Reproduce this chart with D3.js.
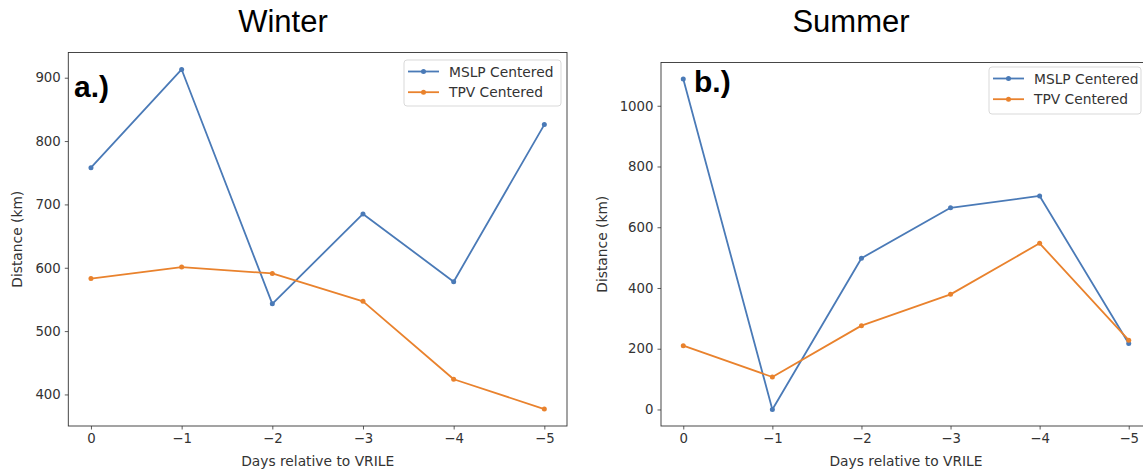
<!DOCTYPE html>
<html><head><meta charset="utf-8">
<script src="https://cdn.jsdelivr.net/npm/d3@7"></script>
<style>
body{margin:0;background:#fff;}
svg{display:block;}
</style></head>
<body>
<svg id="chart" width="1143" height="471"></svg>
<script>
const days = [0, -1, -2, -3, -4, -5];
const seriesNames = ["MSLP Centered", "TPV Centered"];
const winterMSLP = [758, 913, 543, 685, 578, 826];
const winterTPV = [583, 601, 591, 547, 424, 377];
const summerMSLP = [1088, 0, 498, 664, 703, 217];
const summerTPV = [210, 107, 276, 379, 547, 228];
const winterTicks = [400, 500, 600, 700, 800, 900];
const summerTicks = [0, 200, 400, 600, 800, 1000];
const xTicks = [0, -1, -2, -3, -4, -5];
const colors = ["#4a7ab7", "#e9822d"];

const svg = d3.select("#chart");
const tickFont = "DejaVu Sans";
const tickSize = 13.3;
const labelSize = 13.8;

function panel(cfg) {
  const {left, right, top, bottom, series, yTicks, title, titleX, tag, tagX, tagY, yLabelX, legend} = cfg;
  const all = series.flat();
  const mn = d3.min(all), mx = d3.max(all), m = (mx - mn) * 0.05;
  const x = d3.scaleLinear().domain([0.25, -5.25]).range([left, right]);
  const y = d3.scaleLinear().domain([mn - m, mx + m]).range([bottom, top]);
  const g = svg.append("g");

  const xa = g.append("g").attr("transform", `translate(0,${bottom})`)
    .call(d3.axisBottom(x).tickValues(xTicks).tickSize(3.5).tickPadding(4)
      .tickFormat(d => d === 0 ? "0" : "\u2212" + Math.abs(d)));
  const ya = g.append("g").attr("transform", `translate(${left},0)`)
    .call(d3.axisLeft(y).tickValues(yTicks).tickSize(3.5).tickPadding(4).tickFormat(d3.format("d")));
  [xa, ya].forEach(a => {
    a.select(".domain").remove();
    a.selectAll("line").attr("stroke", "#333").attr("stroke-width", 0.8);
    a.selectAll("text").attr("font-family", tickFont).attr("font-size", tickSize).attr("fill", "#333");
  });
  g.append("rect").attr("x", left).attr("y", top).attr("width", right - left).attr("height", bottom - top)
    .attr("fill", "none").attr("stroke", "#333").attr("stroke-width", 0.9);

  const line = d3.line().x((d, i) => x(days[i])).y(d => y(d));
  series.forEach((s, k) => {
    g.append("path").datum(s).attr("d", line).attr("fill", "none")
      .attr("stroke", colors[k]).attr("stroke-width", 1.8).attr("stroke-linejoin", "round");
    g.selectAll(null).data(s).enter().append("circle")
      .attr("cx", (d, i) => x(days[i])).attr("cy", d => y(d)).attr("r", 2.5).attr("fill", colors[k]);
  });

  g.append("text").attr("x", (left + right) / 2).attr("y", 466).attr("text-anchor", "middle")
    .attr("font-family", tickFont).attr("font-size", labelSize).attr("fill", "#333").text("Days relative to VRILE");
  g.append("text").attr("transform", `translate(${yLabelX},${(top + bottom) / 2}) rotate(-90)`)
    .attr("text-anchor", "middle").attr("dominant-baseline", "central")
    .attr("font-family", tickFont).attr("font-size", labelSize).attr("fill", "#333").text("Distance (km)");
  g.append("text").attr("x", titleX).attr("y", 32).attr("text-anchor", "middle")
    .attr("font-family", "Liberation Sans, Arial, sans-serif").attr("font-size", 31).attr("fill", "#000").text(title);
  g.append("text").attr("x", tagX).attr("y", tagY)
    .attr("font-family", "Liberation Sans, Arial, sans-serif").attr("font-weight", "bold")
    .attr("font-size", 30).attr("fill", "#000").text(tag);

  const L = legend;
  g.append("rect").attr("x", L.x).attr("y", L.y).attr("width", L.w).attr("height", L.h).attr("rx", 3)
    .attr("fill", "#fff").attr("fill-opacity", 0.8).attr("stroke", "#d5d5d5").attr("stroke-width", 0.9);
  seriesNames.forEach((n, k) => {
    const ry = L.y + 11.5 + k * 20.7;
    g.append("line").attr("x1", L.x + 4).attr("x2", L.x + 35).attr("y1", ry).attr("y2", ry)
      .attr("stroke", colors[k]).attr("stroke-width", 1.8);
    g.append("circle").attr("cx", L.x + 19.5).attr("cy", ry).attr("r", 2.5).attr("fill", colors[k]);
    g.append("text").attr("x", L.x + 45).attr("y", ry).attr("dominant-baseline", "central")
      .attr("font-family", tickFont).attr("font-size", labelSize).attr("fill", "#333").text(n);
  });
}

panel({left: 68.3, right: 567, top: 52.5, bottom: 426, series: [winterMSLP, winterTPV], yTicks: winterTicks,
  title: "Winter", titleX: 283, tag: "a.)", tagX: 74, tagY: 97, yLabelX: 17,
  legend: {x: 404, y: 60, w: 157, h: 46}});
panel({left: 661, right: 1151, top: 62.5, bottom: 426, series: [summerMSLP, summerTPV], yTicks: summerTicks,
  title: "Summer", titleX: 851, tag: "b.)", tagX: 694, tagY: 92, yLabelX: 602,
  legend: {x: 989, y: 67, w: 152, h: 47}});
</script>
</body></html>
